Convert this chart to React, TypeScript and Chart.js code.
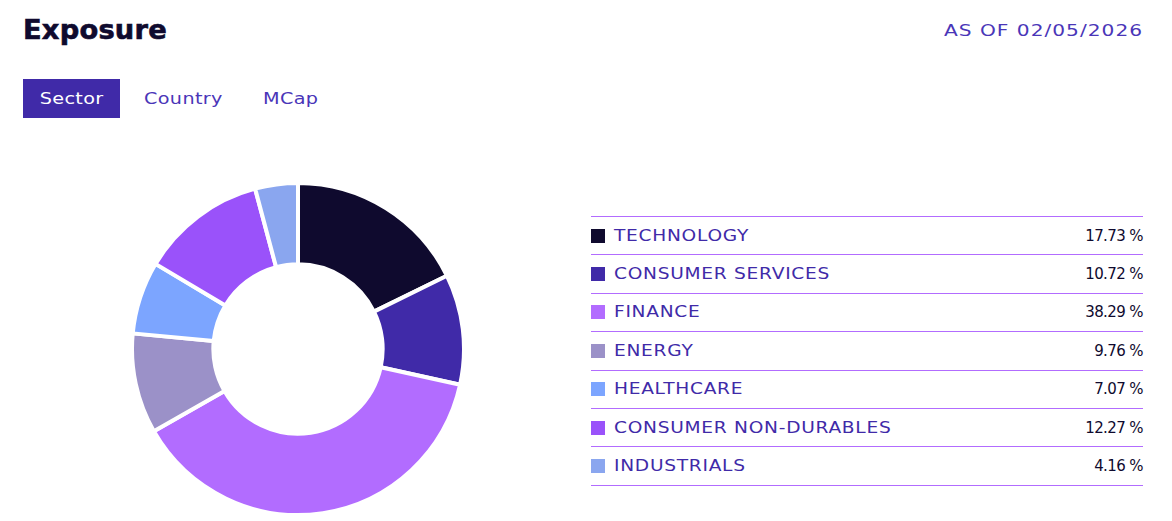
import React, { useEffect, useRef } from 'react';
import { Chart, registerables } from 'chart.js';

Chart.register(...registerables);

const sectors = [
  'TECHNOLOGY',
  'CONSUMER SERVICES',
  'FINANCE',
  'ENERGY',
  'HEALTHCARE',
  'CONSUMER NON-DURABLES',
  'INDUSTRIALS',
];
const weights = [17.73, 10.72, 38.29, 9.76, 7.07, 12.27, 4.16];
const sectorColors = ['#0f0a2e', '#402aa8', '#b26cff', '#9b91c8', '#7ca5ff', '#9a52fa', '#8aa6ef'];
const tabs = ['Sector', 'Country', 'MCap'];
const asOfDate = '02/05/2026';

const FONT = '"DejaVu Sans", "Noto Sans", sans-serif';

// the original uses an extended typeface; widen DejaVu a bit to get close
const wide = (sx: number, origin = 'left'): React.CSSProperties => ({
  display: 'inline-block',
  transform: `scaleX(${sx})`,
  transformOrigin: origin,
});

const ExposureDonut: React.FC = () => {
  const chartRef = useRef<HTMLCanvasElement>(null);
  const chartInstance = useRef<Chart | null>(null);

  useEffect(() => {
    if (chartRef.current) {
      if (chartInstance.current) {
        chartInstance.current.destroy();
      }
      const ctx = chartRef.current.getContext('2d');
      if (ctx) {
        chartInstance.current = new Chart(ctx, {
          type: 'doughnut',
          data: {
            labels: sectors,
            datasets: [
              {
                data: weights,
                backgroundColor: sectorColors,
                borderColor: '#ffffff',
                borderWidth: 4,
              },
            ],
          },
          options: {
            animation: false,
            responsive: true,
            maintainAspectRatio: false,
            cutout: '51%',
            layout: { padding: 0 },
            plugins: {
              legend: { display: false },
              tooltip: { enabled: false },
            },
          },
        });
      }
    }

    return () => {
      if (chartInstance.current) {
        chartInstance.current.destroy();
        chartInstance.current = null;
      }
    };
  }, []);

  return <canvas ref={chartRef} />;
};

const App: React.FC = () => {
  return (
    <div
      style={{
        position: 'absolute',
        left: 0,
        top: 0,
        width: 1172,
        height: 521,
        overflow: 'hidden',
        background: '#ffffff',
        fontFamily: FONT,
      }}
    >
      <div
        style={{
          position: 'absolute',
          left: 23,
          top: 15,
          fontSize: 26,
          fontWeight: 700,
          color: '#0f0a2e',
          letterSpacing: 0.2,
          WebkitTextStroke: '0.6px #0f0a2e',
        }}
      >
        <span style={wide(1.05)}>Exposure</span>
      </div>
      <div
        style={{
          position: 'absolute',
          right: 29,
          top: 21,
          fontSize: 16,
          color: '#4a36b8',
          letterSpacing: 0.8,
        }}
      >
        <span style={wide(1.26, 'right')}>AS OF {asOfDate}</span>
      </div>

      {/* tabs */}
      {tabs.map((t, i) => {
        const lefts = [23, 144, 263];
        const active = i === 0;
        return (
          <div
            key={t}
            style={{
              position: 'absolute',
              left: lefts[i],
              top: 79,
              height: 39,
              width: active ? 97 : undefined,
              lineHeight: '40px',
              textAlign: 'center',
              background: active ? '#402aa8' : 'transparent',
              color: active ? '#ffffff' : '#4a36b8',
              fontSize: 16,
              letterSpacing: 0.3,
            }}
          >
            <span style={wide(1.2, active ? 'center' : 'left')}>{t}</span>
          </div>
        );
      })}

      {/* donut */}
      <div style={{ position: 'absolute', left: 130, top: 181, width: 336, height: 336 }}>
        <ExposureDonut />
      </div>

      {/* legend table */}
      <div style={{ position: 'absolute', left: 591, top: 216, width: 552 }}>
        <div style={{ borderTop: '1px solid #b26cff' }} />
        {sectors.map((s, i) => (
          <div
            key={s}
            style={{
              height: 37.4,
              borderBottom: '1px solid #b26cff',
              display: 'flex',
              alignItems: 'center',
            }}
          >
            <div style={{ width: 14, height: 14, background: sectorColors[i], marginRight: 9 }} />
            <div style={{ flex: 1, color: '#402aa8', fontSize: 15.5, letterSpacing: 0.6 }}>
              <span style={wide(1.2)}>{s}</span>
            </div>
            <div style={{ color: '#0f0a2e', fontSize: 15, letterSpacing: -0.6 }}>{weights[i].toFixed(2)} %</div>
          </div>
        ))}
      </div>
    </div>
  );
};

export default App;
